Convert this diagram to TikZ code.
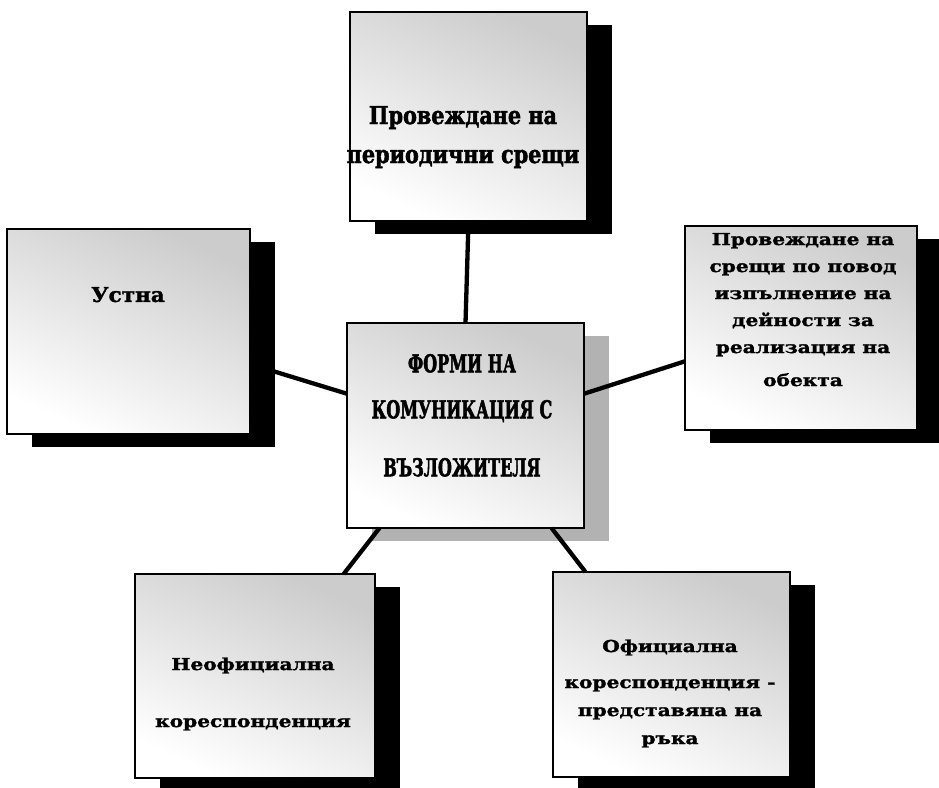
\documentclass[tikz,border=0pt]{standalone}
\usepackage{fontspec}
\setmainfont{DejaVu Serif}
\newfontfamily\fR[FakeStretch=1.22,FakeBold=1.6]{DejaVu Serif}
\newfontfamily\fT[FakeStretch=0.84,FakeBold=1.8]{DejaVu Serif}
\newfontfamily\fC[FakeStretch=0.65,FakeBold=1.8]{DejaVu Serif}
\newfontfamily\fL[FakeStretch=1.05,FakeBold=1.7]{DejaVu Serif}
\usetikzlibrary{shadows}
\begin{document}
\begin{tikzpicture}[x=1pt,y=-1pt,
  boxbase/.style={draw=black, line width=1.6pt, inner sep=0pt, outer sep=0pt,
    top color=black!20, middle color=white, bottom color=white, shading angle=-25},
  box/.style={boxbase, drop shadow={shadow xshift=25pt, shadow yshift=-13pt, opacity=1, fill=black}},
  cbox/.style={boxbase, drop shadow={shadow xshift=25pt, shadow yshift=-13pt, opacity=1, fill=black!30}},
  txt/.style={inner sep=0pt, outer sep=0pt, align=center, anchor=north},
  link/.style={draw=black, line width=4.3pt}]
\useasboundingbox[fill=white] (0,0) rectangle (939,787);

\node[box, minimum width=237pt, minimum height=209pt] (top) at (468.5,116.5) {};
\node[box, minimum width=243pt, minimum height=205pt] (left) at (128.5,331.5) {};
\node[box, minimum width=232pt, minimum height=204pt] (right) at (801,328) {};
\node[box, minimum width=240pt, minimum height=204pt] (bl) at (255,676) {};
\node[box, minimum width=237pt, minimum height=205pt] (br) at (671.5,674.5) {};
\node[cbox, minimum width=237pt, minimum height=205pt] (center) at (465.5,425.5) {};

\draw[link] (top.south) -- (center.north);
\draw[link] (left.-15) -- (center.165);
\draw[link] (center.15) -- (right.196);
\draw[link] (center.230) -- (bl.49);
\draw[link] (center.-50) -- (br.130);

\node[txt, font=\fT\bfseries\fontsize{24.7}{39}\selectfont] (ttop) at (463,106)
  {Провеждане на\\периодични срещи};
\node[txt, font=\fL\bfseries\fontsize{20.5}{25}\selectfont] (tleft) at (128,287)
  {Устна};
\node[txt, font=\fC\bfseries\fontsize{24.7}{46}\selectfont] (tcenter) at (462,354)
  {ФОРМИ НА\\КОМУНИКАЦИЯ С\\[12pt]ВЪЗЛОЖИТЕЛЯ};
\node[txt, font=\fR\bfseries\fontsize{16.5}{27}\selectfont] (tright) at (803,233)
  {Провеждане на\\срещи по повод\\изпълнение на\\дейности за\\реализация на\\[6pt]обекта};
\node[txt, font=\fR\bfseries\fontsize{16.5}{57}\selectfont] (tbl) at (253,657.5)
  {Неофициална\\кореспонденция};
\node[txt, font=\fR\bfseries\fontsize{16.5}{28}\selectfont] (tbr) at (670,639.5)
  {Официална\\[8pt]кореспонденция -\\представяна на\\ръка};
\end{tikzpicture}
\end{document}
